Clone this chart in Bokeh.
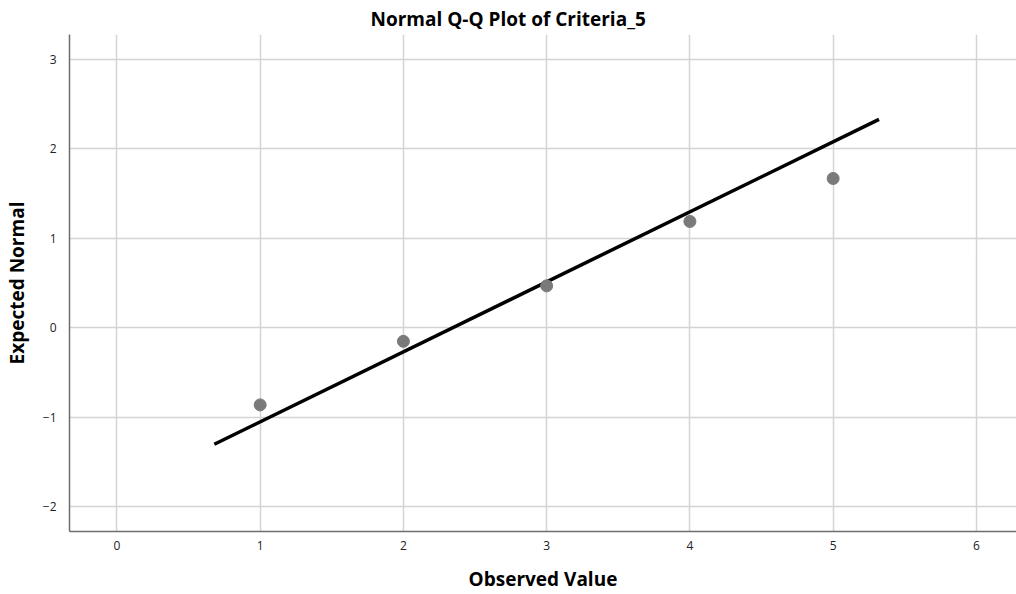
from bokeh.plotting import figure
from bokeh.models import Range1d, FixedTicker
from bokeh.embed import file_html
from bokeh.resources import INLINE

# Data
observed = [1, 2, 3, 4, 5]
expected_normal = [-0.86, -0.15, 0.47, 1.19, 1.67]
line_x = [0.68, 5.32]
line_y = [-1.30, 2.33]
x_ticks = [0, 1, 2, 3, 4, 5, 6]
y_ticks = [-2, -1, 0, 1, 2, 3]

FONT = "Open Sans"

p = figure(width=1016, height=594, output_backend="svg", toolbar_location=None,
           x_range=Range1d(-0.331, 6.28), y_range=Range1d(-2.275, 3.279),
           min_border_left=69, min_border_right=0, min_border_top=34, min_border_bottom=62)

p.title.text = "Normal Q-Q Plot of Criteria_5"
p.title.align = "left"
p.title.offset = 301
p.title.text_font = FONT
p.title.text_font_size = "19px"
p.title.text_font_style = "bold"
p.title.text_color = "#000000"
p.title.standoff = 6

p.outline_line_color = None
p.background_fill_color = "white"
p.border_fill_color = "white"

for ax in (p.xaxis[0], p.yaxis[0]):
    ax.axis_line_color = "#6e6e6e"
    ax.axis_line_width = 1.5
    ax.major_tick_line_color = None
    ax.minor_tick_line_color = None
    ax.major_label_text_font = FONT
    ax.major_label_text_font_size = "12px"
    ax.major_label_text_color = "#222222"
    ax.axis_label_text_font = FONT
    ax.axis_label_text_font_size = "19px"
    ax.axis_label_text_font_style = "bold"
    ax.axis_label_text_color = "#000000"

p.xaxis.axis_label = "Observed Value"
p.yaxis.axis_label = "Expected Normal"
p.xaxis.ticker = FixedTicker(ticks=x_ticks)
p.yaxis.ticker = FixedTicker(ticks=y_ticks)
p.xaxis.major_label_standoff = 3
p.yaxis.major_label_standoff = 7
p.xaxis.axis_label_standoff = 13
p.yaxis.axis_label_standoff = 10

p.xgrid.ticker = FixedTicker(ticks=x_ticks)
p.ygrid.ticker = FixedTicker(ticks=y_ticks)
for g in (p.xgrid[0], p.ygrid[0]):
    g.grid_line_color = "#d4d4d4"
    g.grid_line_width = 1.5

p.line(line_x, line_y, line_color="#000000", line_width=3.5)
p.scatter(observed, expected_normal, size=12, fill_color="#7a7a7a", line_color="#7a7a7a")

open("out.html", "w").write(file_html(p, INLINE))
